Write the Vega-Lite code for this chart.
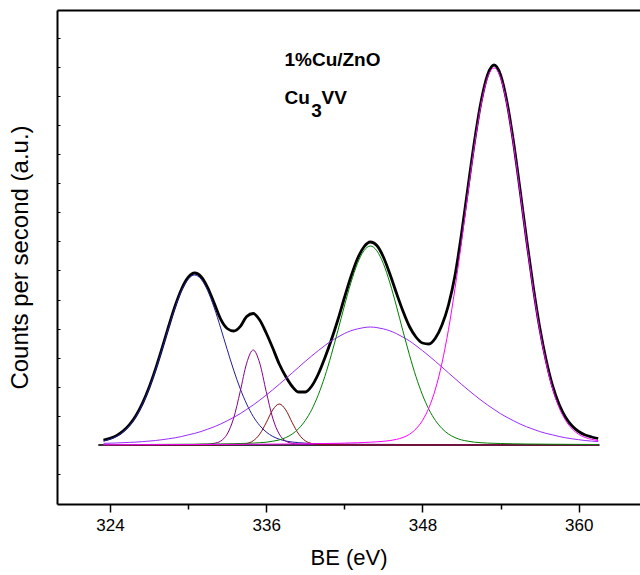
{
  "$schema": "https://vega.github.io/schema/vega-lite/v6.json",
  "width": 583,
  "height": 494,
  "autosize": {"type": "none"},
  "padding": {"left": 57, "top": 10, "right": 0, "bottom": 71},
  "config": {
    "view": {"stroke": null},
    "font": "Liberation Sans",
    "axis": {"grid": false, "domainColor": "black", "tickColor": "black", "labelColor": "black", "titleColor": "black", "labelFont": "Liberation Sans", "titleFont": "Liberation Sans"}
  },
  "datasets": {
    "curves": [
      {"x":323.5,"B":4.0,"P":0.1,"R":0.05,"G":0.36,"M":0.3,"V":1.65,"E":4.8},
      {"x":324.0,"B":5.8,"P":0.1,"R":0.05,"G":0.37,"M":0.31,"V":1.8,"E":6.6},
      {"x":324.5,"B":8.6,"P":0.1,"R":0.05,"G":0.4,"M":0.32,"V":2.05,"E":9.4},
      {"x":325.0,"B":13.0,"P":0.11,"R":0.06,"G":0.42,"M":0.33,"V":2.3,"E":13.9},
      {"x":325.5,"B":19.5,"P":0.12,"R":0.06,"G":0.44,"M":0.34,"V":2.6,"E":20.4},
      {"x":326.0,"B":28.6,"P":0.14,"R":0.06,"G":0.46,"M":0.35,"V":2.9,"E":29.6},
      {"x":326.5,"B":40.9,"P":0.16,"R":0.07,"G":0.49,"M":0.36,"V":3.4,"E":41.9},
      {"x":327.0,"B":56.4,"P":0.17,"R":0.07,"G":0.52,"M":0.37,"V":3.9,"E":57.5},
      {"x":327.5,"B":74.9,"P":0.2,"R":0.08,"G":0.56,"M":0.39,"V":4.5,"E":76.1},
      {"x":328.0,"B":95.6,"P":0.23,"R":0.08,"G":0.6,"M":0.4,"V":5.3,"E":96.9},
      {"x":328.5,"B":117.1,"P":0.26,"R":0.09,"G":0.64,"M":0.42,"V":6.2,"E":118.5},
      {"x":329.0,"B":137.5,"P":0.3,"R":0.09,"G":0.68,"M":0.44,"V":7.2,"E":139.0},
      {"x":329.5,"B":154.4,"P":0.37,"R":0.1,"G":0.72,"M":0.46,"V":8.5,"E":156.0},
      {"x":330.0,"B":165.8,"P":0.44,"R":0.1,"G":0.76,"M":0.48,"V":10.1,"E":167.5},
      {"x":330.5,"B":170,"P":0.5,"R":0.11,"G":0.82,"M":0.5,"V":11.6,"E":172},
      {"x":331.0,"B":165.8,"P":0.7,"R":0.12,"G":0.9,"M":0.52,"V":13.5,"E":168.3},
      {"x":331.5,"B":154.4,"P":0.9,"R":0.15,"G":0.95,"M":0.53,"V":15.8,"E":157.5},
      {"x":332.0,"B":137.5,"P":1.7,"R":0.18,"G":1.0,"M":0.56,"V":18.2,"E":141.9},
      {"x":332.5,"B":117.1,"P":3.9,"R":0.22,"G":1.1,"M":0.58,"V":21.0,"E":125.8},
      {"x":333.0,"B":95.6,"P":10.9,"R":0.27,"G":1.2,"M":0.61,"V":24.2,"E":116.5},
      {"x":333.5,"B":74.9,"P":26.9,"R":0.37,"G":1.35,"M":0.64,"V":27.6,"E":114.0},
      {"x":334.0,"B":56.4,"P":53.4,"R":0.6,"G":1.5,"M":0.68,"V":31.3,"E":118.4},
      {"x":334.5,"B":40.9,"P":81.9,"R":1.5,"G":1.7,"M":0.72,"V":35.6,"E":128.5},
      {"x":335.0,"B":28.6,"P":95,"R":4.2,"G":1.9,"M":0.76,"V":40.0,"E":131.5},
      {"x":335.5,"B":19.5,"P":81.9,"R":10.8,"G":2.3,"M":0.8,"V":44.8,"E":125},
      {"x":336.0,"B":13.0,"P":53.4,"R":22.3,"G":2.8,"M":0.85,"V":49.9,"E":112},
      {"x":336.5,"B":8.6,"P":26.9,"R":35.1,"G":3.8,"M":0.9,"V":55.2,"E":97},
      {"x":337.0,"B":5.8,"P":10.9,"R":41,"G":5.1,"M":0.95,"V":60.7,"E":81},
      {"x":337.5,"B":4.0,"P":3.9,"R":35.1,"G":7.4,"M":1.0,"V":66.4,"E":68.5},
      {"x":338.0,"B":3.0,"P":1.7,"R":22.3,"G":11.0,"M":1.05,"V":72.1,"E":58.5},
      {"x":338.5,"B":2.3,"P":0.9,"R":10.8,"G":16.5,"M":1.1,"V":77.9,"E":53},
      {"x":339.0,"B":1.9,"P":0.7,"R":4.2,"G":24.5,"M":1.2,"V":83.6,"E":53},
      {"x":339.5,"B":1.5,"P":0.5,"R":1.5,"G":35.5,"M":1.3,"V":89.1,"E":59},
      {"x":340.0,"B":1.35,"P":0.44,"R":0.6,"G":50.2,"M":1.4,"V":94.4,"E":71},
      {"x":340.5,"B":1.2,"P":0.37,"R":0.37,"G":68.5,"M":1.5,"V":99.4,"E":87},
      {"x":341.0,"B":1.1,"P":0.3,"R":0.27,"G":90.2,"M":1.6,"V":104.1,"E":105},
      {"x":341.5,"B":1.0,"P":0.27,"R":0.22,"G":114.1,"M":1.7,"V":107.9,"E":125},
      {"x":342.0,"B":0.9,"P":0.23,"R":0.18,"G":138.9,"M":1.9,"V":111.4,"E":147},
      {"x":342.5,"B":0.85,"P":0.2,"R":0.15,"G":162.1,"M":2.1,"V":114.2,"E":168},
      {"x":343.0,"B":0.8,"P":0.17,"R":0.12,"G":181.3,"M":2.3,"V":116.1,"E":186},
      {"x":343.5,"B":0.7,"P":0.15,"R":0.11,"G":194.2,"M":2.5,"V":117.4,"E":198},
      {"x":344.0,"B":0.7,"P":0.14,"R":0.1,"G":199,"M":2.8,"V":118,"E":203},
      {"x":344.5,"B":0.65,"P":0.12,"R":0.1,"G":194.2,"M":3.2,"V":117.4,"E":199.5},
      {"x":345.0,"B":0.6,"P":0.11,"R":0.1,"G":181.3,"M":3.7,"V":116.1,"E":188},
      {"x":345.5,"B":0.6,"P":0.1,"R":0.1,"G":162.1,"M":4.4,"V":114.2,"E":171},
      {"x":346.0,"B":0.55,"P":0.1,"R":0.1,"G":138.9,"M":5.6,"V":111.4,"E":152},
      {"x":346.5,"B":0.5,"P":0.1,"R":0.1,"G":114.1,"M":7.5,"V":107.9,"E":134},
      {"x":347.0,"B":0.5,"P":0.1,"R":0.1,"G":90.2,"M":10.7,"V":104.1,"E":118.5},
      {"x":347.5,"B":0.48,"P":0.1,"R":0.1,"G":68.5,"M":16.1,"V":99.4,"E":108},
      {"x":348.0,"B":0.46,"P":0.1,"R":0.1,"G":50.2,"M":24.5,"V":94.4,"E":102},
      {"x":348.5,"B":0.44,"P":0.1,"R":0.1,"G":35.5,"M":37.3,"V":89.1,"E":101},
      {"x":349.0,"B":0.42,"P":0.1,"R":0.1,"G":24.5,"M":56.0,"V":83.6,"E":107},
      {"x":349.5,"B":0.4,"P":0.1,"R":0.1,"G":16.5,"M":82.0,"V":77.9,"E":120},
      {"x":350.0,"B":0.38,"P":0.1,"R":0.1,"G":11.0,"M":115.5,"V":72.1,"E":140},
      {"x":350.5,"B":0.36,"P":0.1,"R":0.1,"G":7.4,"M":156.5,"V":66.4,"E":169.5},
      {"x":351.0,"B":0.35,"P":0.1,"R":0.1,"G":5.1,"M":203.2,"V":60.7,"E":211},
      {"x":351.5,"B":0.34,"P":0.1,"R":0.1,"G":3.8,"M":252.6,"V":55.2,"E":258},
      {"x":352.0,"B":0.33,"P":0.1,"R":0.1,"G":2.8,"M":300,"V":49.9,"E":304},
      {"x":352.5,"B":0.32,"P":0.1,"R":0.1,"G":2.3,"M":340,"V":44.8,"E":343.2},
      {"x":353.0,"B":0.31,"P":0.1,"R":0.1,"G":1.9,"M":367.2,"V":40.0,"E":370},
      {"x":353.5,"B":0.3,"P":0.1,"R":0.1,"G":1.7,"M":377,"V":35.6,"E":380},
      {"x":354.0,"B":0.3,"P":0.1,"R":0.1,"G":1.5,"M":367.2,"V":31.3,"E":370},
      {"x":354.5,"B":0.3,"P":0.1,"R":0.1,"G":1.35,"M":340,"V":27.6,"E":342.5},
      {"x":355.0,"B":0.28,"P":0.1,"R":0.08,"G":1.2,"M":300,"V":24.2,"E":302.5},
      {"x":355.5,"B":0.27,"P":0.1,"R":0.08,"G":1.1,"M":252.6,"V":21.0,"E":255},
      {"x":356.0,"B":0.26,"P":0.1,"R":0.07,"G":1.0,"M":203.2,"V":18.2,"E":205.5},
      {"x":356.5,"B":0.25,"P":0.09,"R":0.07,"G":0.95,"M":156.5,"V":15.8,"E":159},
      {"x":357.0,"B":0.24,"P":0.09,"R":0.07,"G":0.9,"M":115.5,"V":13.5,"E":118},
      {"x":357.5,"B":0.23,"P":0.08,"R":0.06,"G":0.82,"M":82.0,"V":11.6,"E":85},
      {"x":358.0,"B":0.22,"P":0.08,"R":0.06,"G":0.76,"M":56.0,"V":10.1,"E":59},
      {"x":358.5,"B":0.21,"P":0.07,"R":0.06,"G":0.72,"M":37.3,"V":8.5,"E":40.5},
      {"x":359.0,"B":0.2,"P":0.07,"R":0.05,"G":0.68,"M":24.5,"V":7.2,"E":27.5},
      {"x":359.5,"B":0.19,"P":0.06,"R":0.05,"G":0.64,"M":16.1,"V":6.2,"E":19},
      {"x":360.0,"B":0.18,"P":0.06,"R":0.05,"G":0.6,"M":10.7,"V":5.3,"E":13.5},
      {"x":360.5,"B":0.17,"P":0.06,"R":0.05,"G":0.56,"M":7.5,"V":4.5,"E":10},
      {"x":361.0,"B":0.16,"P":0.05,"R":0.05,"G":0.52,"M":5.6,"V":3.9,"E":8},
      {"x":361.5,"B":0.15,"P":0.05,"R":0.05,"G":0.5,"M":4.4,"V":3.4,"E":6.5}
    ],
    "base": [{"x": 323.1, "y": 0}, {"x": 361.6, "y": 0}],
    "one": [{}]
  },
  "resolve": {"axis": {"x": "independent", "y": "independent"}},
  "layer": [
    {
      "data": {"name": "base"},
      "mark": {"type": "line", "color": "#333333", "strokeWidth": 2.2},
      "encoding": {
        "x": {"field": "x", "type": "quantitative", "scale": {"domain": [319.93, 364.71], "nice": false, "zero": false},
              "axis": {"orient": "top", "domain": true, "domainWidth": 2, "ticks": false, "labels": false, "title": null}},
        "y": {"field": "y", "type": "quantitative", "scale": {"domain": [-59, 435], "nice": false, "zero": false}, "axis": null}
      }
    },
    {
      "data": {"name": "curves"},
      "mark": {"type": "line", "color": "black", "strokeWidth": 2.8, "interpolate": "monotone"},
      "encoding": {
        "x": {"field": "x", "type": "quantitative",
              "axis": {"orient": "bottom", "values": [324, 336, 348, 360], "format": "d", "tickSize": 8, "tickWidth": 1.5, "domainWidth": 2, "labelFontSize": 17, "labelPadding": 5, "title": "BE (eV)", "titleFontSize": 22, "titleFontWeight": "normal", "titlePadding": 14}},
        "y": {"field": "E", "type": "quantitative",
              "axis": {"orient": "left", "labels": false, "values": [-29.1, 0, 29.1, 58.2, 87.3, 116.4, 145.5, 174.6, 203.7, 232.8, 261.9, 291, 320.1, 349.2, 378.3, 407.4], "tickSize": -3, "tickWidth": 1, "domainWidth": 2, "title": "Counts per second (a.u.)", "titleFontSize": 24, "titleFontWeight": "normal", "titlePadding": 24}}
      }
    },
    {
      "data": {"name": "curves"},
      "transform": [{"fold": ["V", "B", "P", "R", "G", "M"], "as": ["s", "v"]}],
      "mark": {"type": "line", "strokeWidth": 1, "interpolate": "monotone"},
      "encoding": {
        "x": {"field": "x", "type": "quantitative",
              "axis": {"orient": "bottom", "values": [330, 342, 354], "tickSize": 5, "tickWidth": 1.5, "domain": false, "labels": false, "title": null}},
        "y": {"field": "v", "type": "quantitative", "axis": null},
        "color": {"field": "s", "type": "nominal", "legend": null,
                  "scale": {"domain": ["V", "B", "P", "R", "G", "M"], "range": ["#9a2cff", "#1f1f99", "#8b008b", "#8b1010", "#008000", "#ff00ff"]}}
      }
    },
    {
      "data": {"name": "one"},
      "mark": {"type": "text", "text": "1%Cu/ZnO", "fontSize": 19, "fontWeight": "bold", "align": "left", "baseline": "middle", "color": "black"},
      "encoding": {"x": {"datum": 337.4, "type": "quantitative", "axis": null}, "y": {"datum": 385, "type": "quantitative", "axis": null}}
    },
    {
      "data": {"name": "one"},
      "mark": {"type": "text", "text": "Cu", "fontSize": 19, "fontWeight": "bold", "align": "left", "baseline": "middle", "color": "black"},
      "encoding": {"x": {"datum": 337.4, "type": "quantitative", "axis": null}, "y": {"datum": 347, "type": "quantitative", "axis": null}}
    },
    {
      "data": {"name": "one"},
      "mark": {"type": "text", "text": "3", "fontSize": 19, "fontWeight": "bold", "align": "left", "baseline": "middle", "color": "black"},
      "encoding": {"x": {"datum": 339.45, "type": "quantitative", "axis": null}, "y": {"datum": 334, "type": "quantitative", "axis": null}}
    },
    {
      "data": {"name": "one"},
      "mark": {"type": "text", "text": "VV", "fontSize": 19, "fontWeight": "bold", "align": "left", "baseline": "middle", "color": "black"},
      "encoding": {"x": {"datum": 340.25, "type": "quantitative", "axis": null}, "y": {"datum": 347, "type": "quantitative", "axis": null}}
    }
  ]
}
